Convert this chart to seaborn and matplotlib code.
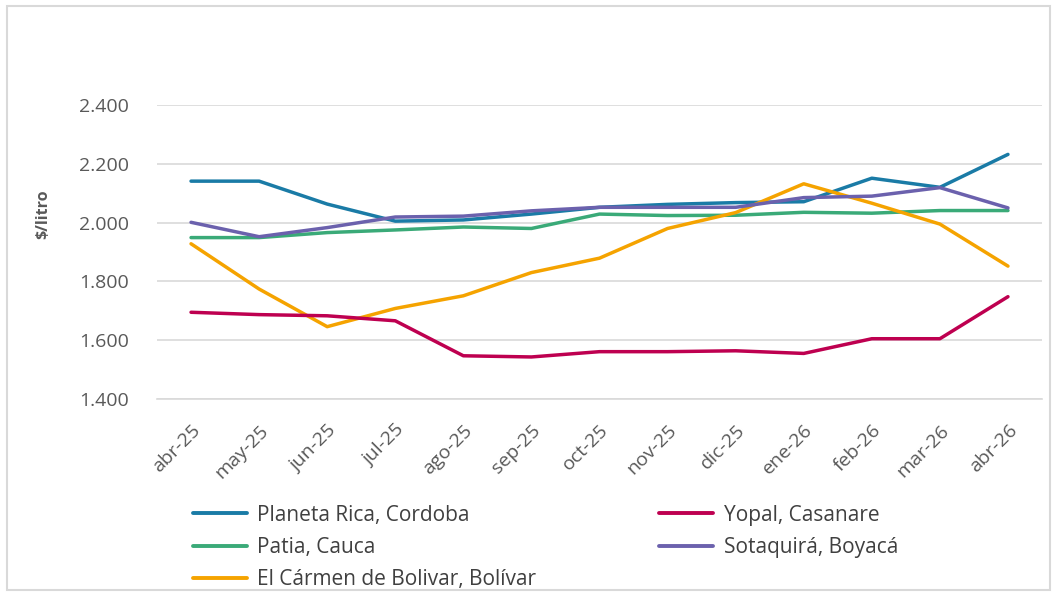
import numpy as np
import pandas as pd
import matplotlib.pyplot as plt
import matplotlib.patches as mpatches
import seaborn as sns

meses = ['abr-25', 'may-25', 'jun-25', 'jul-25', 'ago-25', 'sep-25', 'oct-25',
         'nov-25', 'dic-25', 'ene-26', 'feb-26', 'mar-26', 'abr-26']

planeta_rica = [2.141, 2.141, 2.063, 2.005, 2.009, 2.029, 2.052, 2.062, 2.068, 2.071, 2.151, 2.120, 2.232]
yopal = [1.695, 1.687, 1.683, 1.666, 1.547, 1.543, 1.561, 1.561, 1.564, 1.555, 1.605, 1.605, 1.748]
patia = [1.949, 1.949, 1.966, 1.975, 1.985, 1.980, 2.029, 2.024, 2.025, 2.035, 2.032, 2.041, 2.041]
sotaquira = [2.001, 1.952, 1.983, 2.019, 2.022, 2.040, 2.052, 2.052, 2.052, 2.085, 2.090, 2.119, 2.050]
carmen = [1.928, 1.774, 1.646, 1.708, 1.751, 1.830, 1.879, 1.980, 2.034, 2.132, 2.066, 1.995, 1.852]

series = {
    'Planeta Rica, Cordoba': planeta_rica,
    'Patia, Cauca': patia,
    'El Cármen de Bolivar, Bolívar': carmen,
    'Yopal, Casanare': yopal,
    'Sotaquirá, Boyacá': sotaquira,
}
colores = {
    'Planeta Rica, Cordoba': '#1A7BA6',
    'Patia, Cauca': '#3AAA78',
    'El Cármen de Bolivar, Bolívar': '#F5A300',
    'Yopal, Casanare': '#BE0050',
    'Sotaquirá, Boyacá': '#6B61AD',
}

df = pd.concat([pd.DataFrame({'mes': meses, 'precio': v, 'municipio': k})
                for k, v in series.items()], ignore_index=True)

sns.set_style('white')
plt.rcParams['font.family'] = ['Open Sans', 'DejaVu Sans']

fig = plt.figure(figsize=(10.62, 5.93), dpi=100)
ax = fig.add_axes([157/1062, 1-399/593, (1042-157)/1062, (399-105)/593])

sns.lineplot(data=df, x='mes', y='precio', hue='municipio', palette=colores,
             hue_order=list(series.keys()), linewidth=2.5, ax=ax, legend=False, sort=False)

yt = np.arange(1.4, 2.41, 0.2)
ax.set_xlim(-0.5, len(meses) - 0.5)
ax.set_ylim(1.4, 2.4)
ax.set_yticks(yt)
ax.set_yticklabels([f'{v:.3f}' for v in yt], color='#595959', fontsize=14)
ax.set_xticks(range(len(meses)))
ax.set_xticklabels(meses, rotation=45, ha='right', rotation_mode='anchor', color='#595959', fontsize=14)
ax.set_xticks(np.arange(-0.5, len(meses), 1), minor=True)
ax.tick_params(axis='x', which='major', length=0, pad=16)
ax.tick_params(axis='x', which='minor', length=5, color='#D9D9D9', width=1.2)
ax.tick_params(axis='y', length=0, pad=20)
ax.grid(axis='y', color='#D9D9D9', linewidth=1.2)
ax.set_axisbelow(True)
for s in ['left', 'right', 'top']:
    ax.spines[s].set_visible(False)
ax.spines['bottom'].set_color('#D9D9D9')
ax.spines['bottom'].set_linewidth(1.2)
ax.set_xlabel('')
ax.set_ylabel('$/litro', fontsize=11.5, fontweight='bold', color='#595959')
ax.yaxis.set_label_coords(-0.119, 0.63)

handles = [plt.Line2D([], [], color=colores[k], linewidth=2.8) for k in series]
fig.legend(handles, list(series.keys()), ncol=2, loc='upper left',
           bbox_to_anchor=(178/1062, 1-490/593), frameon=False, fontsize=15,
           handlelength=2.6, handletextpad=0.5, columnspacing=5.9,
           labelspacing=0.55, labelcolor='#404040', borderpad=0.2)

fig.patches.append(mpatches.Rectangle((7/1062, 3/593), 1043/1062, 584/593,
                                      transform=fig.transFigure, fill=False,
                                      edgecolor='#D9D9D9', linewidth=1.5))

fig.savefig('out.png', dpi=100)
